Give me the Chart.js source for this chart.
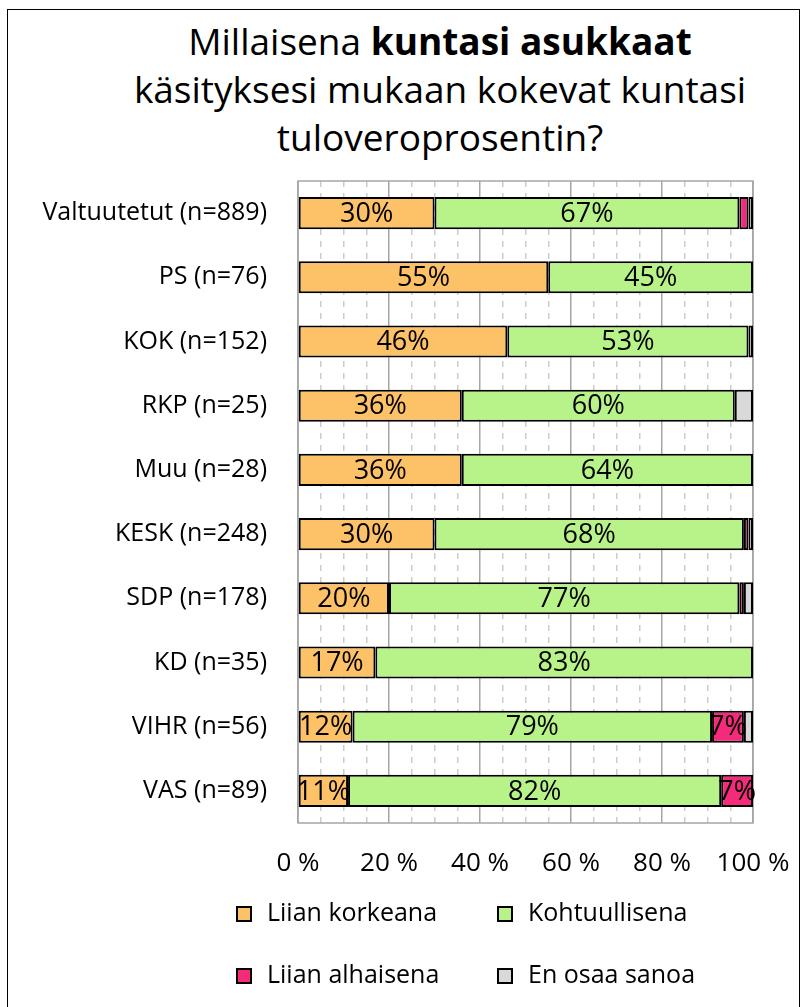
<!DOCTYPE html>
<html>
<head>
<meta charset="utf-8">
<script src="https://cdn.jsdelivr.net/npm/chart.js@4.4.0/dist/chart.umd.min.js"></script>
<style>
  body { margin: 0; overflow: hidden; background: #fff; font-family: "Open Sans", sans-serif; }
  #wrap { position: relative; width: 803px; height: 1007px; overflow: hidden; }
  #frame { position: absolute; left: 7px; top: 9px; width: 793px; height: 1020px; border: 1px solid #000; box-sizing: border-box; }
  #title { position: absolute; left: 40px; top: 17px; width: 800px; text-align: center; font-size: 37px; line-height: 48px; color: #000; }
  #chart { position: absolute; left: 0; top: 0; }
  .leg { position: absolute; font-size: 25px; line-height: 25px; color: #000; white-space: nowrap; }
  .leg span.box { display: inline-block; width: 16px; height: 16px; border: 2px solid #000; box-sizing: border-box; vertical-align: -1px; margin-right: 15px; }
</style>
</head>
<body>
<div id="wrap">
  <div id="frame"></div>
  <div id="title">Millaisena <b>kuntasi asukkaat</b><br>käsityksesi mukaan kokevat kuntasi<br>tuloveroprosentin?</div>
  <canvas id="chart" width="803" height="1007"></canvas>
  <div id="legend"></div>
</div>
<script>
// data
const categories = ['Valtuutetut (n=889)', 'PS (n=76)', 'KOK (n=152)', 'RKP (n=25)', 'Muu (n=28)',
  'KESK (n=248)', 'SDP (n=178)', 'KD (n=35)', 'VIHR (n=56)', 'VAS (n=89)']
const seriesNames = ['Liian korkeana', 'Kohtuullisena', 'Liian alhaisena', 'En osaa sanoa']
const liianKorkeana = [30, 55, 46, 36, 36, 30, 20, 17, 12, 11]
const kohtuullisena = [67, 45, 53, 60, 64, 68, 77, 83, 79, 82]
const liianAlhaisena = [2, 0, 0, 0, 0, 1, 1, 0, 7, 7]
const enOsaaSanoa = [1, 0, 1, 4, 0, 1, 2, 0, 2, 0]
const xTicks = [0, 20, 40, 60, 80, 100]

const colors = ['#FDC168', '#B8F38A', '#F42A7B', '#D9D9D9']
const allValues = [liianKorkeana, kohtuullisena, liianAlhaisena, enOsaaSanoa]

const datasets = seriesNames.map((name, i) => ({
  label: name,
  data: allValues[i],
  backgroundColor: colors[i],
  borderColor: '#000',
  borderWidth: 2,
  borderSkipped: false,
  barPercentage: 0.5,
  categoryPercentage: 1,
}))

// value labels inside segments
const segmentLabels = {
  id: 'segmentLabels',
  afterDatasetsDraw(chart) {
    const ctx = chart.ctx
    ctx.save()
    ctx.font = '27px "Open Sans"'
    ctx.fillStyle = '#000'
    ctx.textAlign = 'center'
    ctx.textBaseline = 'middle'
    chart.data.datasets.forEach((ds, di) => {
      const meta = chart.getDatasetMeta(di)
      meta.data.forEach((bar, i) => {
        const v = ds.data[i]
        if (v >= 5) {
          ctx.fillText(v + '%', (bar.x + bar.base) / 2, bar.y + 1)
        }
      })
    })
    ctx.restore()
  }
}

// grey frame around plot area
const plotFrame = {
  id: 'plotFrame',
  beforeDatasetsDraw(chart) {
    const a = chart.chartArea
    const ctx = chart.ctx
    ctx.save()
    ctx.strokeStyle = '#A6A6A6'
    ctx.lineWidth = 1.5
    ctx.strokeRect(a.left, a.top, a.right - a.left, a.bottom - a.top)
    ctx.restore()
  }
}

const ctx = document.getElementById('chart').getContext('2d')
Chart.defaults.font.family = '"Open Sans"'
Chart.defaults.color = '#000'
const chart = new Chart(ctx, {
  type: 'bar',
  data: { labels: categories, datasets: datasets },
  options: {
    indexAxis: 'y',
    responsive: false,
    animation: false,
    layout: { padding: { top: 181, right: 50, bottom: 124, left: 0 } },
    plugins: {
      legend: { display: false },
      title: { display: false },
      tooltip: { enabled: false },
    },
    scales: {
      x: {
        stacked: true,
        min: 0,
        max: 100,
        afterFit: s => { s.height = 60; s.paddingLeft = 0; s.paddingRight = 0 },
        ticks: {
          stepSize: 5,
          maxTicksLimit: 21,
          autoSkip: false,
          maxRotation: 0,
          padding: 25,
          font: { size: 26 },
          callback: v => xTicks.includes(v) ? v + ' %' : '',
        },
        grid: {
          drawTicks: false,
          color: c => c.tick && c.tick.value % 20 === 0 ? '#A6A6A6' : '#CCCCCC',
          lineWidth: 1.5,
        },
        border: {
          display: false,
          dash: c => c.tick && c.tick.value % 20 === 0 ? [] : [6, 6],
        },
      },
      y: {
        stacked: true,
        afterFit: s => { s.width = 298 },
        ticks: { padding: 23, font: { size: 25 } },
        grid: { display: false },
        border: { display: false },
      },
    },
  },
  plugins: [plotFrame, segmentLabels],
})

// legend in two columns
const legendPos = [[236, 899], [497, 899], [236, 961], [497, 961]]
const legendEl = document.getElementById('legend')
seriesNames.forEach((name, i) => {
  const d = document.createElement('div')
  d.className = 'leg'
  d.style.left = legendPos[i][0] + 'px'
  d.style.top = legendPos[i][1] + 'px'
  d.innerHTML = '<span class="box" style="background:' + colors[i] + '"></span>' + name
  legendEl.appendChild(d)
})
</script>
</body>
</html>
